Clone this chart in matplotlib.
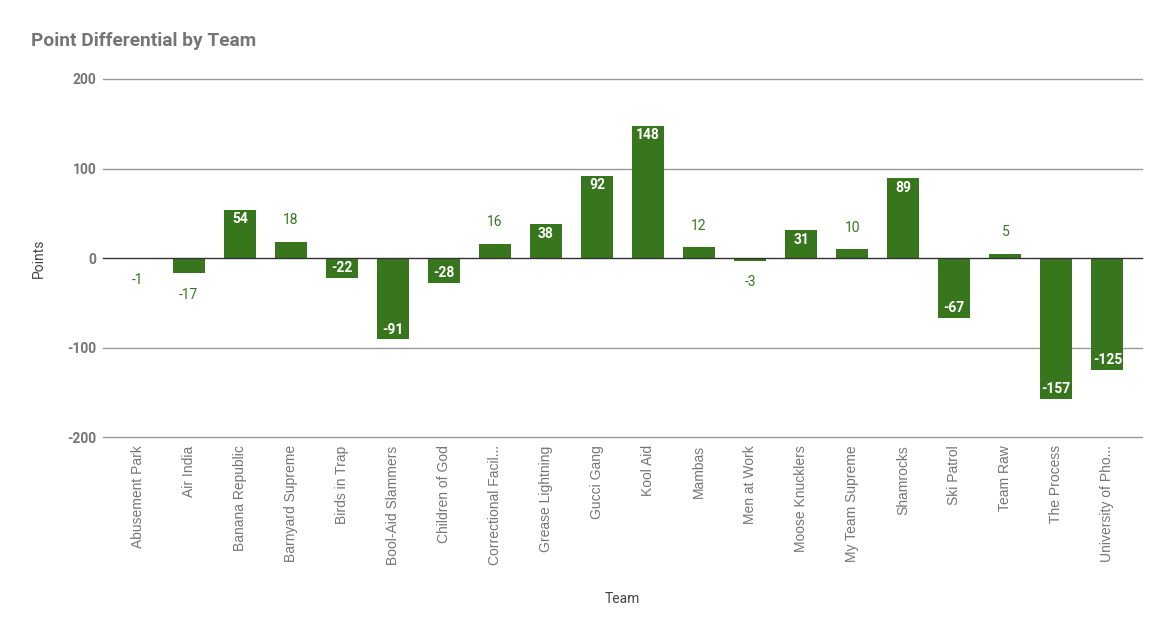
import matplotlib.pyplot as plt

plt.rcParams['font.family'] = ['Roboto', 'DejaVu Sans']

teams = ["Abusement Park", "Air India", "Banana Republic", "Barnyard Supreme",
         "Birds in Trap", "Bool-Aid Slammers", "Children of God",
         "Correctional Facil...", "Grease Lightning", "Gucci Gang", "Kool Aid",
         "Mambas", "Men at Work", "Moose Knucklers", "My Team Supreme",
         "Shamrocks", "Ski Patrol", "Team Raw", "The Process",
         "University of Pho..."]
points = [-1, -17, 54, 18, -22, -91, -28, 16, 38, 92, 148, 12, -3, 31, 10,
          89, -67, 5, -157, -125]
yticks = [-200, -100, 0, 100, 200]

green = "#38761d"
gray = "#757575"

fig = plt.figure(figsize=(11.69, 6.34), dpi=100)
ax = fig.add_axes([0.0881, 0.3107, 0.977 - 0.0881, 0.8754 - 0.3107])

x = list(range(len(teams)))
ax.bar(x, points, width=0.63, color=green, zorder=3)

# grid
for t in yticks:
    ax.axhline(t, color="#333333" if t == 0 else "#999999",
               linewidth=1.0, zorder=4 if t == 0 else 1, clip_on=False)

# data labels: inside if bar is tall enough, otherwise outside
for i, v in zip(x, points):
    if abs(v) >= 20:
        off = -7 if v > 0 else 7
        ax.annotate(str(v), (i, v), xytext=(0, off), textcoords="offset points",
                    ha="center", va="center", color="white",
                    fontsize=10, fontweight="bold", zorder=5)
    else:
        off = 15.5 if v > 0 else -15.5
        ax.annotate(str(v), (i, v), xytext=(0, off), textcoords="offset points",
                    ha="center", va="center", color=green,
                    fontsize=10, zorder=5)

ax.set_xlim(-0.68, 19.68)
ax.set_ylim(-200, 200)
ax.set_yticks(yticks)
ax.set_yticklabels([str(t) for t in yticks], fontsize=10, fontweight="bold",
                   color=gray)
ax.set_xticks(x)
ax.set_xticklabels(teams, rotation=90, fontsize=10, color=gray,
                   family=['Liberation Sans', 'DejaVu Sans'])
ax.tick_params(axis="both", length=0)
ax.tick_params(axis="y", pad=4.5)
ax.tick_params(axis="x", pad=6)
for s in ax.spines.values():
    s.set_visible(False)

ax.set_xlabel("Team", fontsize=10, color="#444444", labelpad=19.5)
ax.set_ylabel("Points", fontsize=10, color="#444444", labelpad=16)
fig.text(31 / 1169, 1 - 41 / 634, "Point Differential by Team", fontsize=13.8,
         fontweight="bold", color=gray, va="center", ha="left")

fig.savefig("out.png", dpi=100)
